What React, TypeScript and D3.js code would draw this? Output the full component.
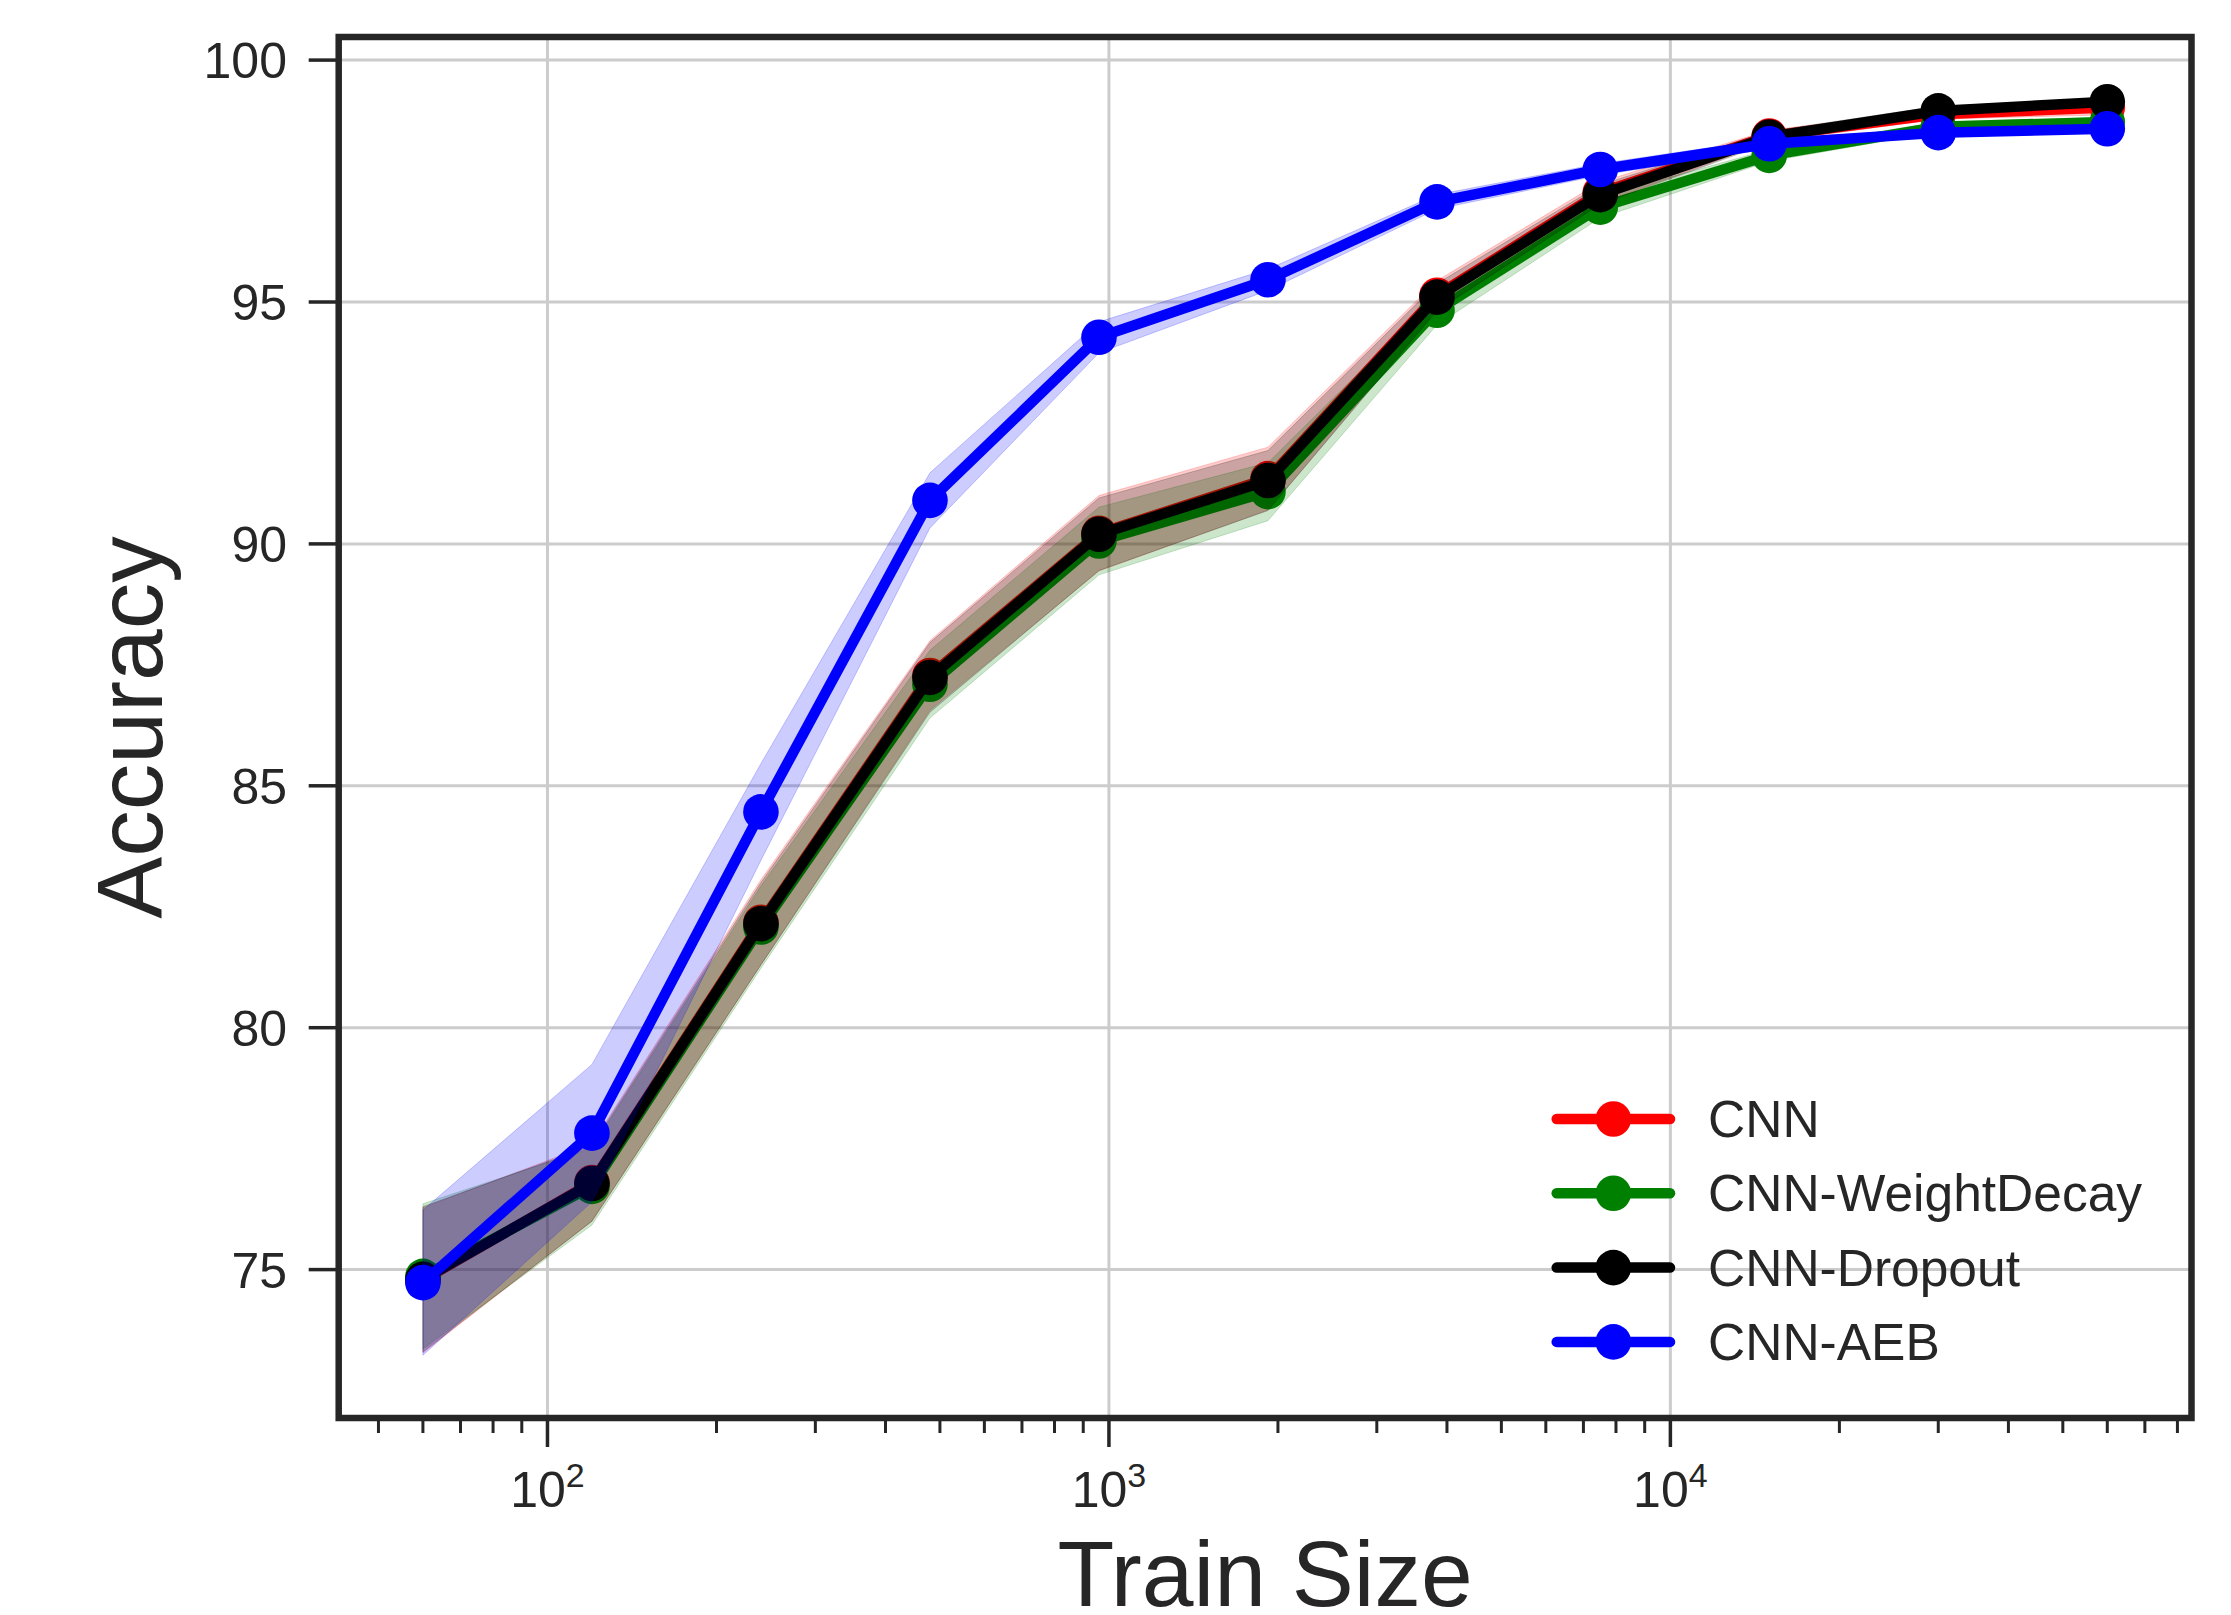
import * as d3 from "d3";
import React from "react";

// training set sizes (log x axis)
const trainSizes = [60, 120, 240, 480, 960, 1920, 3840, 7500, 15000, 30000, 60000];

// mean accuracy and spread for each model
const cnnMean = [74.78, 76.8, 82.18, 87.28, 90.22, 91.35, 95.14, 97.26, 98.43, 98.88, 99.02];
const cnnStd = [1.5, 0.8, 0.88, 0.72, 0.78, 0.65, 0.3, 0.22, 0.12, 0.1, 0.15];
const weightDecayMean = [74.86, 76.72, 82.08, 87.1, 90.06, 91.08, 94.83, 96.96, 98.03, 98.62, 98.72];
const weightDecayStd = [1.5, 0.8, 0.85, 0.7, 0.7, 0.6, 0.3, 0.22, 0.12, 0.1, 0.1];
const dropoutMean = [74.8, 76.78, 82.15, 87.24, 90.2, 91.31, 95.1, 97.22, 98.41, 98.95, 99.14];
const dropoutStd = [1.5, 0.78, 0.85, 0.72, 0.75, 0.62, 0.28, 0.2, 0.12, 0.1, 0.04];
const aebMean = [74.73, 77.82, 84.46, 90.9, 94.27, 95.46, 97.07, 97.74, 98.27, 98.5, 98.58];
const aebStd = [1.5, 1.42, 1.0, 0.57, 0.32, 0.22, 0.15, 0.12, 0.1, 0.08, 0.08];

const seriesNames = ["CNN", "CNN-WeightDecay", "CNN-Dropout", "CNN-AEB"];
const seriesMeans = [cnnMean, weightDecayMean, dropoutMean, aebMean];
const seriesStds = [cnnStd, weightDecayStd, dropoutStd, aebStd];

const yTicks = [75, 80, 85, 90, 95, 100];
const xMajorTicks = [100, 1000, 10000];
const xTickExponents = ["2", "3", "4"];

const colors = ["#ff0000", "#008000", "#000000", "#0000ff"];

const W = 2231;
const H = 1615;
const left = 338.7;
const right = 2191.5;
const top = 37;
const bottom = 1418;
const ink = "#262626";
const font = "'Liberation Sans', Arial, sans-serif";

const App = () => {
  // matplotlib style 5% margins
  const lx = trainSizes.map(Math.log10);
  const lxMin = d3.min(lx)!;
  const lxMax = d3.max(lx)!;
  const padX = (lxMax - lxMin) * 0.05;
  const xScale = d3.scaleLog()
    .domain([Math.pow(10, lxMin - padX), Math.pow(10, lxMax + padX)])
    .range([left, right]);

  const lows = seriesMeans.flatMap((m, i) => m.map((v, j) => v - seriesStds[i][j]));
  const highs = seriesMeans.flatMap((m, i) => m.map((v, j) => v + seriesStds[i][j]));
  const yMin = d3.min(lows)!;
  const yMax = d3.max(highs)!;
  const padY = (yMax - yMin) * 0.05;
  const yScale = d3.scaleLinear()
    .domain([yMin - padY, yMax + padY])
    .range([bottom, top]);

  const [d0, d1] = xScale.domain();
  const minorTicks: number[] = [];
  for (let e = 1; e <= 4; e++) {
    for (let k = 2; k <= 9; k++) {
      const v = k * Math.pow(10, e);
      if (v >= d0 && v <= d1) minorTicks.push(v);
    }
  }

  const line = d3.line<number>()
    .x((_, i) => xScale(trainSizes[i]))
    .y((d) => yScale(d));

  const band = (mean: number[], std: number[]) =>
    d3.area<number>()
      .x((_, i) => xScale(trainSizes[i]))
      .y0((d, i) => yScale(d - std[i]))
      .y1((d, i) => yScale(d + std[i]))(mean);

  const legendX0 = 1556.7;
  const legendX1 = 1670;
  const legendY0 = 1119;
  const legendStep = 74.3;

  return (
    <svg width={W} height={H} style={{ position: "absolute", left: 0, top: 0, background: "#fff" }}
      fontFamily={font}>
      <rect x={0} y={0} width={W} height={H} fill="#fff" />

      {/* grid */}
      {yTicks.map((t) => (
        <line key={"gy" + t} x1={left} x2={right} y1={yScale(t)} y2={yScale(t)} stroke="#cccccc" strokeWidth={3} />
      ))}
      {xMajorTicks.map((t) => (
        <line key={"gx" + t} x1={xScale(t)} x2={xScale(t)} y1={top} y2={bottom} stroke="#cccccc" strokeWidth={3} />
      ))}

      {/* series */}
      {seriesMeans.map((m, i) => (
        <g key={seriesNames[i]}>
          <path d={band(m, seriesStds[i]) || ""} fill={colors[i]} fillOpacity={0.2}
            stroke={colors[i]} strokeOpacity={0.2} strokeWidth={1} />
          <path d={line(m) || ""} fill="none" stroke={colors[i]} strokeWidth={10.5}
            strokeLinejoin="round" strokeLinecap="round" />
          {m.map((v, j) => (
            <circle key={j} cx={xScale(trainSizes[j])} cy={yScale(v)} r={17.8} fill={colors[i]} />
          ))}
        </g>
      ))}

      {/* ticks */}
      {yTicks.map((t) => (
        <g key={"ty" + t}>
          <line x1={left - 30} x2={left} y1={yScale(t)} y2={yScale(t)} stroke={ink} strokeWidth={3.5} />
          <text x={287} y={yScale(t)} dy="0.36em" textAnchor="end" fontSize={50} fill={ink}>{t}</text>
        </g>
      ))}
      {minorTicks.map((t) => (
        <line key={"mx" + t} x1={xScale(t)} x2={xScale(t)} y1={bottom} y2={bottom + 15} stroke={ink} strokeWidth={3} />
      ))}
      {xMajorTicks.map((t, i) => (
        <g key={"tx" + t}>
          <line x1={xScale(t)} x2={xScale(t)} y1={bottom} y2={bottom + 29} stroke={ink} strokeWidth={3.5} />
          <text x={xScale(t)} y={1507} textAnchor="middle" fontSize={50} fill={ink}>
            <tspan>10</tspan>
            <tspan dy={-20} fontSize={34}>{xTickExponents[i]}</tspan>
          </text>
        </g>
      ))}

      {/* frame */}
      <rect x={left} y={top} width={right - left} height={bottom - top} fill="none" stroke={ink}
        strokeWidth={6.5} strokeLinejoin="miter" strokeLinecap="square" />

      {/* axis labels */}
      <text x={(left + right) / 2} y={1606} textAnchor="middle" fontSize={93} fill={ink}>Train Size</text>
      <text x={161.7} y={(top + bottom) / 2} textAnchor="middle" fontSize={93} fill={ink}
        transform={`rotate(-90, 161.7, ${(top + bottom) / 2})`}>Accuracy</text>

      {/* legend */}
      {seriesNames.map((name, i) => {
        const y = legendY0 + i * legendStep;
        return (
          <g key={"lg" + name}>
            <line x1={legendX0} x2={legendX1} y1={y} y2={y} stroke={colors[i]} strokeWidth={10.5} strokeLinecap="round" />
            <circle cx={(legendX0 + legendX1) / 2} cy={y} r={17.8} fill={colors[i]} />
            <text x={1708} y={y + 18} fontSize={51.5} fill={ink}>{name}</text>
          </g>
        );
      })}
    </svg>
  );
};

export default App;
